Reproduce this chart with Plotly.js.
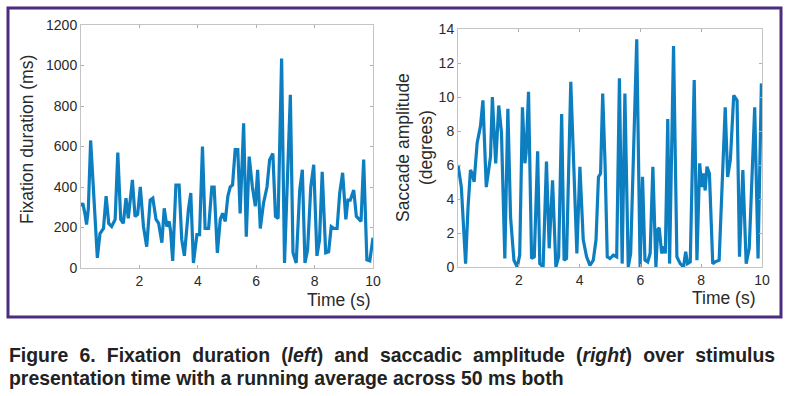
<!DOCTYPE html>
<html>
<head>
<meta charset="utf-8">
<script src="https://cdn.plot.ly/plotly-3.0.1.min.js"></script>
<style>
  html, body { margin: 0; padding: 0; background: #fff; }
  #wrap { position: relative; width: 791px; height: 396px; overflow: hidden; }
  #chart { position: absolute; left: 0; top: 0; width: 791px; height: 396px; }
  #caption {
    position: absolute; left: 9px; top: 343px; width: 809px;
    transform: scaleX(0.947); transform-origin: 0 0;
    font-family: "Liberation Sans", Arial, sans-serif;
    font-weight: bold; font-size: 20.5px; line-height: 23px; color: #222;
  }
  #caption .l1 { display: flex; justify-content: space-between; white-space: nowrap; }
  #caption .l2 { text-align: left; white-space: nowrap; }
</style>
</head>
<body>
<div id="wrap">
  <div id="chart"></div>
  <div id="caption">
    <div class="l1"><span>Figure</span><span>6.</span><span>Fixation</span><span>duration</span><span>(<i>left</i>)</span><span>and</span><span>saccadic</span><span>amplitude</span><span>(<i>right</i>)</span><span>over</span><span>stimulus</span></div>
    <div class="l2">presentation time with a running average across 50 ms both</div>
  </div>
</div>
<script>
// Left panel: fixation duration (ms) over time (s)
const fixTime = [0.00,0.06,0.14,0.19,0.25,0.33,0.56,0.65,0.77,0.86,0.95,1.05,1.17,1.26,1.36,1.45,1.54,1.62,1.76,1.85,1.94,2.03,2.14,2.25,2.37,2.46,2.57,2.66,2.77,2.85,2.94,3.02,3.07,3.14,3.25,3.36,3.45,3.54,3.68,3.76,3.85,3.97,4.06,4.16,4.25,4.37,4.48,4.56,4.67,4.77,4.85,4.94,5.03,5.11,5.19,5.28,5.37,5.45,5.57,5.66,5.76,5.87,5.97,6.05,6.14,6.25,6.37,6.46,6.57,6.66,6.75,6.87,6.97,7.07,7.17,7.26,7.37,7.49,7.58,7.67,7.76,7.87,7.97,8.08,8.17,8.26,8.38,8.48,8.57,8.67,8.77,8.86,8.96,9.07,9.14,9.22,9.34,9.43,9.53,9.59,9.68,9.79,9.89,10.0];
const fixDuration = [305,320,265,215,290,630,50,170,195,355,220,205,240,570,240,220,345,245,435,255,265,400,205,105,335,345,240,220,125,295,205,230,180,35,410,410,140,60,290,370,25,165,165,600,195,195,400,400,75,240,270,230,355,400,410,585,585,270,715,155,550,400,305,485,195,320,400,535,565,255,245,1035,25,400,855,75,25,385,485,25,90,400,510,60,140,475,75,80,205,195,195,370,470,240,335,335,385,255,240,230,535,40,35,150];

// Right panel: saccade amplitude (degrees) over time (s)
const sacTime = [0.00,0.11,0.25,0.33,0.41,0.47,0.53,0.63,0.74,0.82,0.93,1.02,1.07,1.13,1.24,1.34,1.43,1.54,1.64,1.73,1.84,1.95,2.03,2.12,2.20,2.24,2.32,2.42,2.51,2.62,2.69,2.80,2.91,3.00,3.11,3.22,3.31,3.41,3.49,3.57,3.71,3.91,4.01,4.12,4.23,4.34,4.45,4.54,4.62,4.69,4.76,4.84,4.91,5.00,5.11,5.22,5.31,5.40,5.49,5.60,5.68,5.88,5.99,6.07,6.15,6.24,6.32,6.41,6.51,6.57,6.62,6.70,6.78,6.82,6.90,6.96,7.09,7.20,7.31,7.42,7.49,7.55,7.64,7.77,7.86,7.95,8.02,8.08,8.13,8.19,8.27,8.38,8.46,8.59,8.68,8.79,8.87,8.96,9.07,9.18,9.26,9.37,9.48,9.58,9.76,9.87,9.98];
const sacAmplitude = [6.0,4.7,0.2,3.5,5.7,5.5,5.0,7.3,8.3,9.8,4.7,5.7,6.5,10.0,6.1,9.5,7.9,0.5,9.3,2.9,0.4,0.0,0.7,9.4,6.1,6.7,10.3,0.5,0.6,6.8,0.2,0.0,6.2,1.1,5.1,0.0,0.6,9.0,0.4,0.5,10.9,0.8,5.9,1.6,0.6,0.1,0.4,1.6,5.3,5.5,10.2,5.9,0.6,0.5,0.7,0.6,11.1,0.2,10.2,0.0,0.8,13.4,0.0,5.3,0.4,0.3,0.8,5.9,0.0,2.2,2.3,0.8,1.2,0.8,8.7,0.2,13.0,0.6,0.2,0.0,0.9,0.2,0.3,11.0,0.4,6.1,4.7,5.5,4.5,5.9,5.5,0.2,0.3,0.4,4.9,9.4,5.3,6.3,10.1,9.8,0.6,5.7,0.2,1.1,9.4,0.5,10.8];

const xTicks = [2, 4, 6, 8, 10];
const fixTicks = [0, 200, 400, 600, 800, 1000, 1200];
const sacTicks = [0, 2, 4, 6, 8, 10, 12, 14];

const W = 791, H = 396;
const px = v => v / W;
const py = v => 1 - v / H;

const lineStyle = { color: '#0d7fc1', width: 3.2 };
const tickFont = { family: 'Liberation Sans, Arial, sans-serif', size: 14, color: '#2a2a2a' };
const titleFont = { family: 'Liberation Sans, Arial, sans-serif', size: 17.5, color: '#2a2a2a' };

const axisCommon = {
  showline: true, mirror: 'ticks', linecolor: '#c4c4c4', linewidth: 1,
  ticks: 'inside', ticklen: 3, tickcolor: '#b0b0b0', tickwidth: 1,
  showgrid: false, zeroline: false, tickfont: tickFont, fixedrange: true
};

const traces = [
  { x: fixTime, y: fixDuration, type: 'scatter', mode: 'lines', line: lineStyle, xaxis: 'x', yaxis: 'y', hoverinfo: 'skip' },
  { x: sacTime, y: sacAmplitude, type: 'scatter', mode: 'lines', line: lineStyle, xaxis: 'x2', yaxis: 'y2', hoverinfo: 'skip' }
];

const layout = {
  width: W, height: H,
  margin: { l: 0, r: 0, t: 0, b: 0, pad: 0 },
  paper_bgcolor: '#ffffff', plot_bgcolor: '#ffffff',
  showlegend: false,
  xaxis: Object.assign({}, axisCommon, { domain: [px(81), px(373)], range: [0, 10], tickvals: xTicks, anchor: 'y' }),
  yaxis: Object.assign({}, axisCommon, { domain: [py(268), py(25)], range: [0, 1200], tickvals: fixTicks, anchor: 'x' }),
  xaxis2: Object.assign({}, axisCommon, { domain: [px(458), px(762)], range: [0, 10], tickvals: xTicks, anchor: 'y2' }),
  yaxis2: Object.assign({}, axisCommon, { domain: [py(267), py(29)], range: [0, 14], tickvals: sacTicks, anchor: 'x2' }),
  shapes: [
    { type: 'rect', xref: 'paper', yref: 'paper', x0: px(8), x1: px(781), y0: py(317), y1: py(8),
      line: { color: '#4b2c7f', width: 3 }, fillcolor: 'rgba(0,0,0,0)' }
  ],
  annotations: [
    { text: 'Time (s)', xref: 'paper', yref: 'paper', x: px(373), y: py(300), xanchor: 'right', yanchor: 'middle', showarrow: false, font: titleFont },
    { text: 'Time (s)', xref: 'paper', yref: 'paper', x: px(758), y: py(298), xanchor: 'right', yanchor: 'middle', showarrow: false, font: titleFont },
    { text: 'Fixation duration (ms)', xref: 'paper', yref: 'paper', x: px(27), y: py(140), xanchor: 'center', yanchor: 'middle', textangle: -90, showarrow: false, font: titleFont },
    { text: 'Saccade amplitude<br>(degrees)', xref: 'paper', yref: 'paper', x: px(414), y: py(148), xanchor: 'center', yanchor: 'middle', textangle: -90, showarrow: false, font: titleFont }
  ]
};

Plotly.newPlot('chart', traces, layout, { staticPlot: true, displayModeBar: false });
</script>
</body>
</html>
